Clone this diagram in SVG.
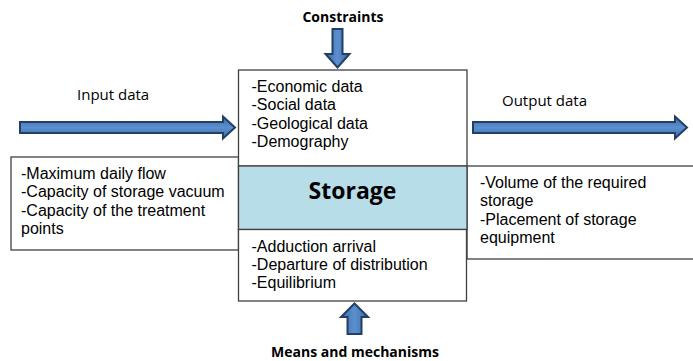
<svg xmlns="http://www.w3.org/2000/svg" width="693" height="361" viewBox="0 0 693 361">
  <style>
    .box { fill: #ffffff; stroke: #404040; stroke-width: 1.3; }
    .store { fill: #b7dde8; stroke: #404040; stroke-width: 1.3; }
    .body { font-family: "Liberation Sans", Arial, sans-serif; font-size: 16px; fill: #000; }
    .lab { font-family: "Open Sans", "Liberation Sans", sans-serif; font-size: 15px; fill: #000; }
    .head { font-family: "Open Sans", "Liberation Sans", sans-serif; font-size: 14px; font-weight: 700; fill: #000; }
    .arrowH { fill: url(#gH); stroke: #233f66; stroke-width: 2; stroke-linejoin: miter; }
    .arrowV { fill: url(#gV); stroke: #233f66; stroke-width: 2; stroke-linejoin: miter; }
  </style>
  <defs>
    <linearGradient id="gH" x1="0" y1="0" x2="0" y2="1">
      <stop offset="0" stop-color="#3d6ca6"/>
      <stop offset="0.5" stop-color="#5b8fcf"/>
      <stop offset="1" stop-color="#3d6ca6"/>
    </linearGradient>
    <linearGradient id="gV" x1="0" y1="0" x2="1" y2="0">
      <stop offset="0" stop-color="#3d6ca6"/>
      <stop offset="0.5" stop-color="#5b8fcf"/>
      <stop offset="1" stop-color="#3d6ca6"/>
    </linearGradient>
  </defs>

  <g id="input-box">
    <rect class="box" x="11" y="157" width="227.5" height="93"/>
    <text class="body" x="21" y="179">
      <tspan x="21" y="179">-Maximum daily flow</tspan>
      <tspan x="21" y="197.3">-Capacity of storage vacuum</tspan>
      <tspan x="21" y="215.6">-Capacity of the treatment</tspan>
      <tspan x="21" y="233.9">points</tspan>
    </text>
  </g>

  <g id="output-box">
    <rect class="box" x="467" y="166" width="240" height="93"/>
    <text class="body">
      <tspan x="480" y="188">-Volume of the required</tspan>
      <tspan x="480" y="206.3">storage</tspan>
      <tspan x="480" y="224.6">-Placement of storage</tspan>
      <tspan x="480" y="243">equipment</tspan>
    </text>
  </g>

  <g id="constraints-box">
    <rect class="box" x="238.5" y="70" width="228.5" height="96"/>
    <text class="body">
      <tspan x="251.5" y="92">-Economic data</tspan>
      <tspan x="251.5" y="110.3">-Social data</tspan>
      <tspan x="251.5" y="128.6">-Geological data</tspan>
      <tspan x="251.5" y="147">-Demography</tspan>
    </text>
  </g>

  <g id="storage">
    <rect class="store" x="238.5" y="166" width="228.5" height="63.5"/>
    <text x="352.5" y="199" text-anchor="middle" font-family="'Open Sans', 'Liberation Sans', sans-serif" font-size="23" font-weight="700" fill="#000">Storage</text>
  </g>

  <g id="means-box">
    <rect class="box" x="238.5" y="229.5" width="228" height="71.5"/>
    <text class="body">
      <tspan x="251.5" y="251.7">-Adduction arrival</tspan>
      <tspan x="251.5" y="270">-Departure of distribution</tspan>
      <tspan x="251.5" y="288.3">-Equilibrium</tspan>
    </text>
  </g>

  <g id="labels">
    <text class="head" x="343" y="22" text-anchor="middle">Constraints</text>
    <text class="head" x="355" y="357" text-anchor="middle">Means and mechanisms</text>
    <text class="lab" x="77" y="100">Input data</text>
    <text class="lab" x="502" y="106">Output data</text>
  </g>

  <g id="connectors">
    <polygon class="arrowH" points="20,122 223,122 223,116.5 235,127.5 223,138.5 223,133 20,133"/>
    <polygon class="arrowH" points="473,122 675,122 675,116.5 687,127.5 675,138.5 675,133 473,133"/>
    <polygon class="arrowV" points="332.5,29 342.5,29 342.5,54 349.5,54 337.5,67.5 325.5,54 332.5,54"/>
    <polygon class="arrowV" points="354.5,303.5 368,317 361.5,317 361.5,334 347.5,334 347.5,317 341,317"/>
  </g>
</svg>
